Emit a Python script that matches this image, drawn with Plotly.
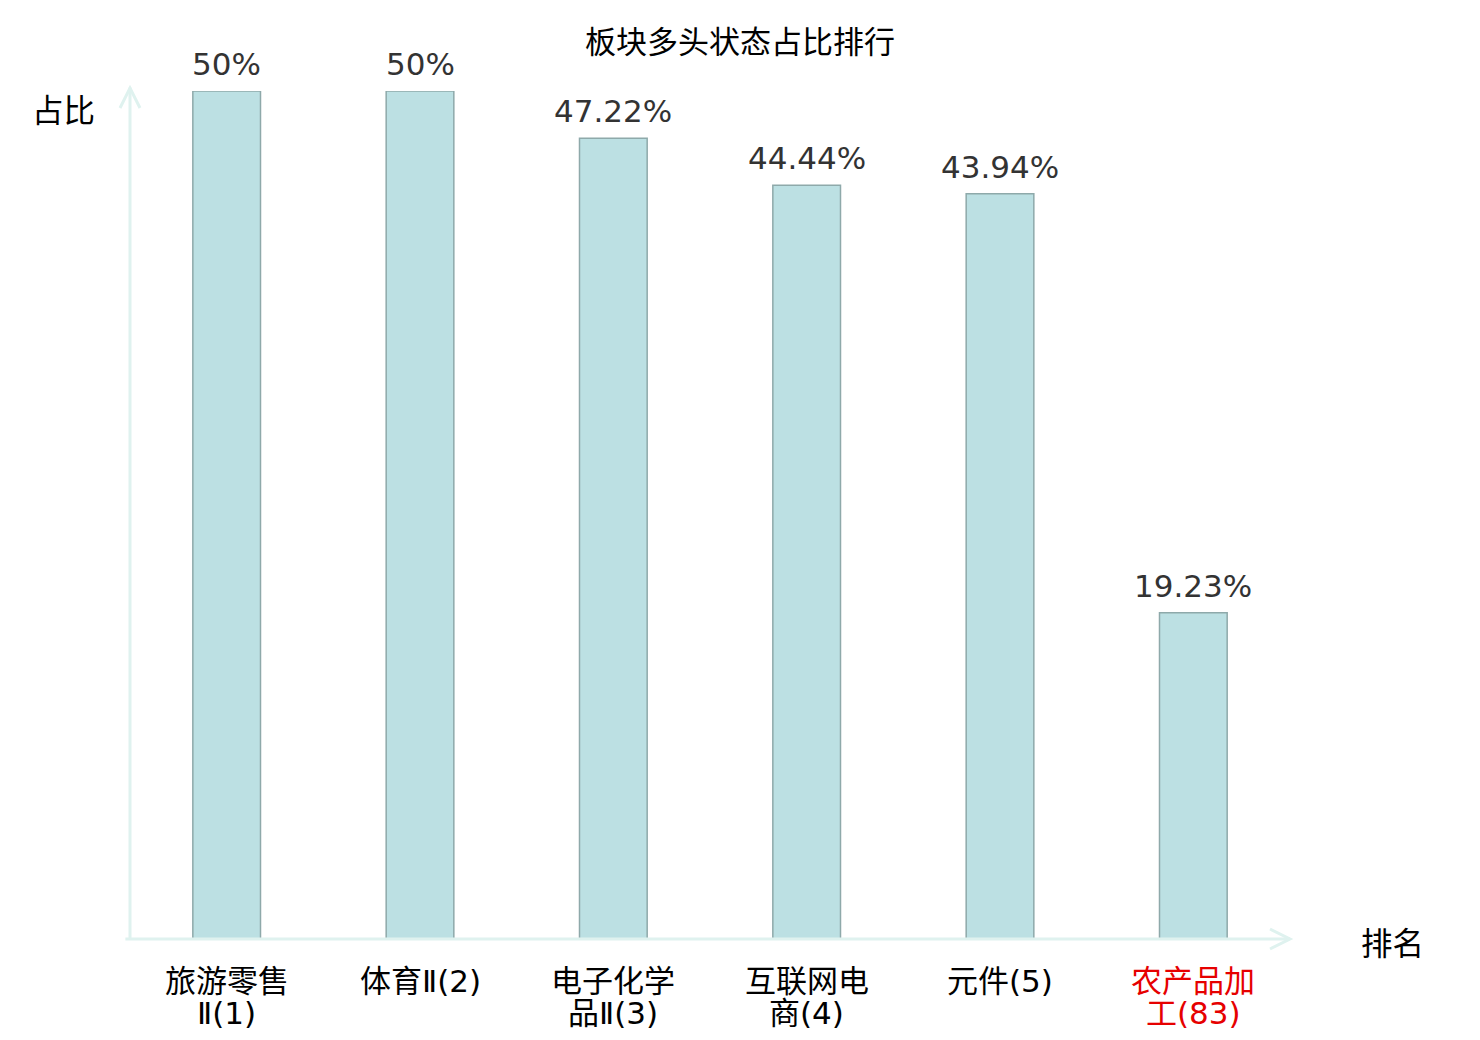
import plotly.graph_objects as go

# data
categories = ["旅游零售<br>Ⅱ(1)", "体育Ⅱ(2)", "电子化学<br>品Ⅱ(3)", "互联网电<br>商(4)", "元件(5)", "农产品加<br>工(83)"]
values = [50, 50, 47.22, 44.44, 43.94, 19.23]
value_labels = ["50%", "50%", "47.22%", "44.44%", "43.94%", "19.23%"]
label_colors = ["#000000", "#000000", "#000000", "#000000", "#000000", "#e60000"]

AXIS_COLOR = "#dff2ef"
CJK = "Noto Sans CJK SC"
TICK_FONT = "DejaVu Sans, Noto Sans CJK SC"
LATIN = "DejaVu Sans"

x_idx = list(range(len(categories)))

fig = go.Figure(go.Bar(
    x=x_idx,
    y=values,
    width=0.35,
    marker=dict(color="#bce0e3", line=dict(color="#8ea9aa", width=1.5)),
    hoverinfo="skip",
))

annotations = []
# value labels on top of bars
for i, (v, t) in enumerate(zip(values, value_labels)):
    annotations.append(dict(
        x=i, y=v, xref="x", yref="y", text=t, showarrow=False,
        yanchor="bottom", yshift=7,
        font=dict(family=LATIN, size=31, color="#333333"),
    ))

# category labels, drawn line by line for tight spacing
for i, (lab, col) in enumerate(zip(categories, label_colors)):
    for j, line in enumerate(lab.split("<br>")):
        annotations.append(dict(
            x=i, y=0, xref="x", yref="paper", text=line, showarrow=False,
            yanchor="middle", yshift=-42 - 32 * j,
            font=dict(family=TICK_FONT, size=31, color=col),
        ))

# axis names
annotations.append(dict(
    x=0, y=1, xref="paper", yref="paper", text="占比", showarrow=False,
    xanchor="center", yanchor="middle", xshift=-67, yshift=-17,
    font=dict(family=CJK, size=31.5, color="#000000"),
))
annotations.append(dict(
    x=1, y=0, xref="paper", yref="paper", text="排名", showarrow=False,
    xanchor="center", yanchor="middle", xshift=102, yshift=-2,
    font=dict(family=CJK, size=31.5, color="#000000"),
))

shapes = [
    # y axis line
    dict(type="line", xref="paper", yref="paper", x0=0, x1=0, y0=0, y1=1.004,
         line=dict(color=AXIS_COLOR, width=3)),
    # x axis line
    dict(type="line", xref="paper", yref="paper", x0=-0.004, x1=1, y0=0, y1=0,
         line=dict(color=AXIS_COLOR, width=3)),
    # arrow heads
    dict(type="path", xref="paper", yref="paper", xsizemode="pixel", ysizemode="pixel",
         xanchor=0, yanchor=1, path="M -10,-17 L 0,3 L 10,-17",
         line=dict(color=AXIS_COLOR, width=3)),
    dict(type="path", xref="paper", yref="paper", xsizemode="pixel", ysizemode="pixel",
         xanchor=1, yanchor=0, path="M -20,10 L 0,0 L -20,-10",
         line=dict(color=AXIS_COLOR, width=3)),
]

# page body adds 8px, so margins are shifted by that much
fig.update_layout(
    width=1480,
    height=1040,
    margin=dict(l=122, r=198, t=83, b=109),
    paper_bgcolor="white",
    plot_bgcolor="white",
    showlegend=False,
    title=dict(
        text="板块多头状态占比排行", x=(740 - 8) / 1480, xanchor="center",
        y=1 - (42 - 8) / 1040, yanchor="middle",
        font=dict(family=CJK, size=31, color="#000000"),
    ),
    xaxis=dict(range=[-0.5, len(categories) - 0.5], showticklabels=False, showgrid=False,
               zeroline=False, showline=False, ticks="", fixedrange=True),
    yaxis=dict(range=[0, 50], showticklabels=False, showgrid=False, zeroline=False,
               showline=False, ticks="", fixedrange=True),
    annotations=annotations,
    shapes=shapes,
)

fig.write_html("out.html")
